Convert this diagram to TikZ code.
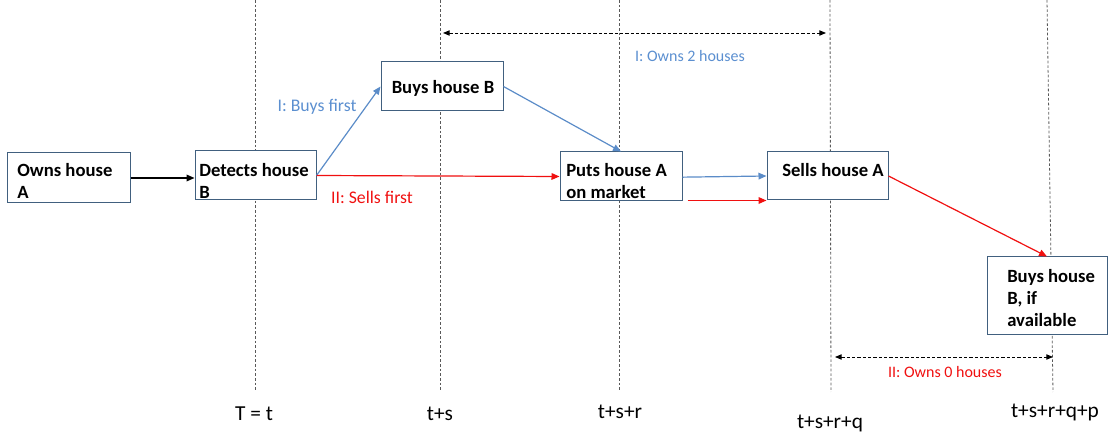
\documentclass[tikz,border=0pt]{standalone}
\usepackage{fontspec}
\setmainfont{Carlito}
\usetikzlibrary{arrows.meta,calc}
\definecolor{boxc}{HTML}{41607F}
\definecolor{myblue}{HTML}{5B8CC8}
\definecolor{labblue}{HTML}{5B8FD0}
\definecolor{myred}{HTML}{F01010}
\begin{document}
\begin{tikzpicture}[x=0.75pt,y=-0.75pt,
  box/.style={draw=boxc,fill=white,line width=0.75pt,inner sep=0pt},
  btxt/.style={font=\fontsize{14}{16.5}\selectfont\bfseries,align=left,inner sep=0pt,anchor=north west},
  vline/.style={black!65,line width=0.6pt,dash pattern=on 2pt off 1.5pt},
  dimarrow/.style={black,line width=0.7pt,dash pattern=on 2.5pt off 1.5pt,{Triangle[length=5pt,width=4pt]}-{Triangle[length=5pt,width=4pt]}},
  conn/.style={line width=0.9pt,-{Triangle[length=6pt,width=5pt]}},
  lab/.style={font=\fontsize{12}{14}\selectfont,inner sep=0pt},
  tlab/.style={font=\fontsize{16}{18}\selectfont,inner sep=0pt}]
\useasboundingbox (0,0) rectangle (1115,438);
% vertical time lines
\coordinate (v1t) at (255,0);   \coordinate (v1b) at (255,392);
\coordinate (v2t) at (440,0);   \coordinate (v2b) at (440,392);
\coordinate (v3t) at (619,0);   \coordinate (v3b) at (619,392);
\coordinate (v4t) at (830,0);   \coordinate (v4b) at (831,392);
\coordinate (v5t) at (1047,0);  \coordinate (v5b) at (1053,392);
\draw[vline] (v1t) -- (v1b);
\draw[vline] (v2t) -- (v2b);
\draw[vline] (v3t) -- (v3b);
\draw[vline] (v4t) -- (v4b);
\draw[vline] (v5t) -- (v5b);
% boxes
\node[box,minimum width=92.25pt,minimum height=37.5pt] (owns) at (68.5,178) {};
\node[box,minimum width=90.75pt,minimum height=36.75pt] (det) at (255.5,175.5) {};
\node[box,minimum width=91.5pt,minimum height=36.75pt] (buy) at (442,86.5) {};
\node[box,minimum width=91.5pt,minimum height=36.75pt] (puts) at (621,176.5) {};
\node[box,minimum width=90.75pt,minimum height=36pt] (sells) at (827.5,176) {};
\node[box,minimum width=90pt,minimum height=58.5pt] (bb) at (1047,296) {};
% box texts
\node[btxt] (towns) at (17,163) {Owns house\\A};
\node[btxt] (tdet) at (199,163) {Detects house\\B};
\node[btxt,anchor=north] (tbuy) at (443,80) {Buys house B};
\node[btxt] (tputs) at (566,163) {Puts house A\\on market};
\node[btxt] (tsells) at (782,163) {Sells house A};
\node[btxt] (tbb) at (1007,269) {Buys house\\B, if\\available};
% connectors
\draw[conn,black] (owns.east) -- (owns.east -| det.west);
\draw[conn,myblue] (det.east) -- (buy.west);
\draw[conn,myred] (det.east) -- (puts.west);
\draw[conn,myblue] (buy.east) -- (puts.north);
\draw[conn,myblue] ([yshift=-0.5pt]puts.east) -- (sells.west);
\coordinate (rs) at ([xshift=3.75pt,yshift=0.75pt]puts.south east);
\draw[conn,myred] (rs) -- (rs -| sells.west);
\draw[conn,myred] (sells.east) -- (bb.north);
% dimension arrows
\coordinate (d1a) at (443,33); \coordinate (d1b) at (826,33);
\draw[dimarrow] (d1a) -- (d1b);
\coordinate (d2a) at (835,357); \coordinate (d2b) at (1053,357);
\draw[dimarrow] (d2a) -- (d2b);
% labels
\node[lab,font=\fontsize{13.3}{15}\selectfont,text=labblue] (l1) at (317,107) {I: Buys first};
\node[lab,font=\fontsize{13.3}{15}\selectfont,text=myred] (l2) at (372,197) {II: Sells first};
\node[lab,text=labblue] (l3) at (690,56) {I: Owns 2 houses};
\node[lab,text=myred] (l4) at (945,372) {II: Owns 0 houses};
% time labels
\node[tlab] (tt1) at (254,414) {T = t};
\node[tlab] (tt2) at (440,414) {t+s};
\node[tlab] (tt3) at (620,412) {t+s+r};
\node[tlab] (tt4) at (830,423) {t+s+r+q};
\node[tlab] (tt5) at (1055,412) {t+s+r+q+p};
\end{tikzpicture}
\end{document}
